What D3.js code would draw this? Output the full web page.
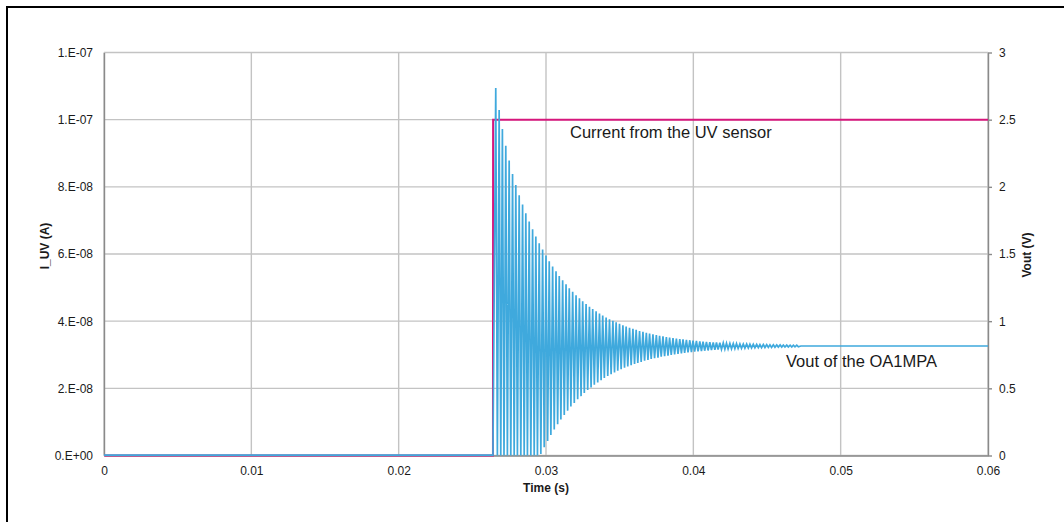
<!DOCTYPE html>
<html>
<head>
<meta charset="utf-8">
<title>UV sensor step response</title>
<script src="https://d3js.org/d3.v7.min.js"></script>
<style>
body { margin: 0; background: #fff; }
svg text { font-family: "Liberation Sans", Arial, Helvetica, sans-serif; fill: #1a1a1a; }
</style>
</head>
<body>
<svg id="chart" width="1064" height="522"></svg>
<script>
// axes
var xTicks = [0, 0.01, 0.02, 0.03, 0.04, 0.05, 0.06];
var xTickLabels = ["0", "0.01", "0.02", "0.03", "0.04", "0.05", "0.06"];
var iTicks = [0, 2e-8, 4e-8, 6e-8, 8e-8, 1e-7, 1.2e-7];
var iTickLabels = ["0.E+00", "2.E-08", "4.E-08", "6.E-08", "8.E-08", "1.E-07", "1.E-07"];
var vTicks = [0, 0.5, 1, 1.5, 2, 2.5, 3];
var vTickLabels = ["0", "0.5", "1", "1.5", "2", "2.5", "3"];

// current from the UV sensor (A), time in ms
var iTimeMs = [0, 26.40, 26.41, 60];
var iValue = [0, 0, 1e-7, 1e-7];

// Vout (V), time in ms : flat, ringing peaks / troughs, settled
var vStartTimeMs = [0, 26.40];
var vStartValue = [0.003, 0.003];

var vPeakTimeMs = [26.59,26.82,27.04,27.27,27.50,27.73,27.95,28.18,28.41,28.63,
  28.86,29.09,29.31,29.54,29.77,30.00,30.22,30.45,30.68,30.90,
  31.13,31.36,31.58,31.81,32.04,32.27,32.49,32.72,32.95,33.17,
  33.40,33.63,33.85,34.08,34.31,34.54,34.76,34.99,35.22,35.44,
  35.67,35.90,36.12,36.35,36.58,36.81,37.03,37.26,37.49,37.71,
  37.94,38.17,38.39,38.62,38.85,39.08,39.30,39.53,39.76,39.98,
  40.21,40.44,40.66,40.89,41.12,41.35,41.57,41.80,42.03,42.25,
  42.48,42.71,42.93,43.16,43.39,43.62,43.84,44.07,44.30,44.52,
  44.75,44.98,45.20,45.43,45.66,45.89,46.11,46.34,46.57,46.79,
  47.02];
var vPeakValue = [2.735,2.572,2.430,2.305,2.196,2.095,2.013,1.938,1.868,1.804,
  1.742,1.685,1.631,1.580,1.533,1.488,1.446,1.407,1.371,1.336,
  1.304,1.274,1.245,1.218,1.193,1.170,1.148,1.127,1.108,1.090,
  1.073,1.057,1.042,1.028,1.015,1.002,0.991,0.980,0.970,0.960,
  0.951,0.943,0.935,0.927,0.920,0.914,0.908,0.902,0.897,0.891,
  0.887,0.882,0.878,0.874,0.871,0.867,0.864,0.861,0.858,0.855,
  0.853,0.850,0.848,0.846,0.844,0.842,0.841,0.839,0.838,0.836,
  0.835,0.834,0.833,0.831,0.830,0.830,0.829,0.828,0.827,0.826,
  0.826,0.825,0.824,0.824,0.823,0.823,0.822,0.822,0.821,0.821,
  0.821];
var vTroughTimeMs = [26.70,26.93,27.15,27.38,27.61,27.84,28.06,28.29,28.52,28.74,
  28.97,29.20,29.42,29.65,29.88,30.11,30.33,30.56,30.79,31.01,
  31.24,31.47,31.69,31.92,32.15,32.38,32.60,32.83,33.06,33.28,
  33.51,33.74,33.96,34.19,34.42,34.65,34.87,35.10,35.33,35.55,
  35.78,36.01,36.23,36.46,36.69,36.92,37.14,37.37,37.60,37.82,
  38.05,38.28,38.50,38.73,38.96,39.19,39.41,39.64,39.87,40.09,
  40.32,40.55,40.77,41.00,41.23,41.46,41.68,41.91,42.14,42.36,
  42.59,42.82,43.04,43.27,43.50,43.73,43.95,44.18,44.41,44.63,
  44.86,45.09,45.31,45.54,45.77,46.00,46.22,46.45,46.68,46.90,
  47.13];
var vTroughValue = [0,0,0,0,0,0,0,0,0,0,
  0,0,0,0.012,0.061,0.108,0.152,0.193,0.232,0.268,
  0.302,0.334,0.364,0.391,0.418,0.442,0.465,0.487,0.507,0.526,
  0.544,0.561,0.577,0.592,0.605,0.618,0.631,0.642,0.653,0.663,
  0.672,0.681,0.689,0.697,0.705,0.711,0.718,0.724,0.729,0.735,
  0.740,0.744,0.749,0.753,0.757,0.760,0.764,0.767,0.770,0.773,
  0.775,0.778,0.780,0.782,0.784,0.786,0.788,0.790,0.791,0.793,
  0.794,0.795,0.797,0.798,0.799,0.800,0.801,0.802,0.803,0.803,
  0.804,0.805,0.805,0.806,0.807,0.807,0.808,0.808,0.808,0.809,
  0.809];
var vEndTimeMs = [47.30, 60];
var vEndValue = [0.815, 0.815];

// build point tables
var iData = iTimeMs.map(function(t, i) { return {t: t / 1000, v: iValue[i]}; });

var vData = vStartTimeMs.map(function(t, i) { return {t: t / 1000, v: vStartValue[i]}; });
vPeakTimeMs.forEach(function(t, i) {
  vData.push({t: t / 1000, v: vPeakValue[i]});
  vData.push({t: vTroughTimeMs[i] / 1000, v: vTroughValue[i]});
});
vEndTimeMs.forEach(function(t, i) { vData.push({t: t / 1000, v: vEndValue[i]}); });

// set up
var margin = {top: 52.5, right: 76, bottom: 66.5, left: 104},
    width = 1064 - margin.left - margin.right,
    height = 522 - margin.top - margin.bottom;

var svg = d3.select("#chart");

// chart frame (right and bottom edges fall outside the picture)
svg.append("rect")
  .attr("x", 7).attr("y", 7)
  .attr("width", 1100).attr("height", 600)
  .attr("fill", "none")
  .attr("stroke", "#000")
  .attr("stroke-width", 2);

var g = svg.append("g")
  .attr("transform", "translate(" + margin.left + "," + margin.top + ")");

var x = d3.scaleLinear().domain([0, 0.06]).range([0, width]);
var yI = d3.scaleLinear().domain([0, 1.2e-7]).range([height, 0]);
var yV = d3.scaleLinear().domain([0, 3]).range([height, 0]);

// grid
g.append("g").selectAll("line")
  .data(iTicks).enter().append("line")
  .attr("x1", 0).attr("x2", width)
  .attr("y1", function(d) { return yI(d); })
  .attr("y2", function(d) { return yI(d); })
  .attr("stroke", "#c3c3c3").attr("stroke-width", 1.4);

g.append("g").selectAll("line")
  .data(xTicks).enter().append("line")
  .attr("y1", 0).attr("y2", height)
  .attr("x1", function(d) { return x(d); })
  .attr("x2", function(d) { return x(d); })
  .attr("stroke", "#c3c3c3").attr("stroke-width", 1.4);

// axes
var xAxis = d3.axisBottom(x).tickValues(xTicks)
  .tickFormat(function(d, i) { return xTickLabels[i]; })
  .tickSize(0).tickPadding(11);
var yAxisL = d3.axisLeft(yI).tickValues(iTicks)
  .tickFormat(function(d, i) { return iTickLabels[i]; })
  .tickSize(0).tickPadding(11);
var yAxisR = d3.axisRight(yV).tickValues(vTicks)
  .tickFormat(function(d, i) { return vTickLabels[i]; })
  .tickSizeInner(4).tickSizeOuter(0).tickPadding(7);

var gx = g.append("g").attr("transform", "translate(0," + height + ")").call(xAxis);
var gl = g.append("g").call(yAxisL);
var gr = g.append("g").attr("transform", "translate(" + width + ",0)").call(yAxisR);

[gx, gl, gr].forEach(function(a) {
  a.select(".domain").attr("stroke", "#8a8a8a").attr("stroke-width", 1.4);
  a.selectAll(".tick line").attr("stroke", "#8a8a8a").attr("stroke-width", 1.4);
  a.selectAll(".tick text").style("font-size", "12px").attr("fill", "#1a1a1a");
});
gx.select(".domain").raise();

// series
var line = d3.line()
  .x(function(d) { return x(d.t); });

g.append("path")
  .datum(iData)
  .attr("fill", "none")
  .attr("stroke", "#d6177c")
  .attr("stroke-width", 2)
  .attr("d", line.y(function(d) { return yI(d.v); }));

g.append("path")
  .datum(vData)
  .attr("fill", "none")
  .attr("stroke", "#3fa9dd")
  .attr("stroke-width", 1.7)
  .attr("stroke-linejoin", "miter")
  .attr("d", line.y(function(d) { return yV(d.v); }));

// labels on the curves
g.append("text")
  .attr("x", x(0.03163)).attr("y", yI(9.46e-8))
  .style("font-size", "16.5px")
  .text("Current from the UV sensor");

g.append("text")
  .attr("x", x(0.04629)).attr("y", yV(0.6625))
  .style("font-size", "16.5px")
  .text("Vout of the OA1MPA");

// axis titles
svg.append("text")
  .attr("x", margin.left + width / 2).attr("y", 492)
  .attr("text-anchor", "middle")
  .style("font-size", "12px").style("font-weight", "bold")
  .text("Time (s)");

svg.append("text")
  .attr("transform", "translate(49,246) rotate(-90)")
  .attr("text-anchor", "middle")
  .style("font-size", "12px").style("font-weight", "bold")
  .text("I_UV (A)");

svg.append("text")
  .attr("transform", "translate(1031,255) rotate(-90)")
  .attr("text-anchor", "middle")
  .style("font-size", "12px").style("font-weight", "bold")
  .text("Vout (V)");
</script>
</body>
</html>
